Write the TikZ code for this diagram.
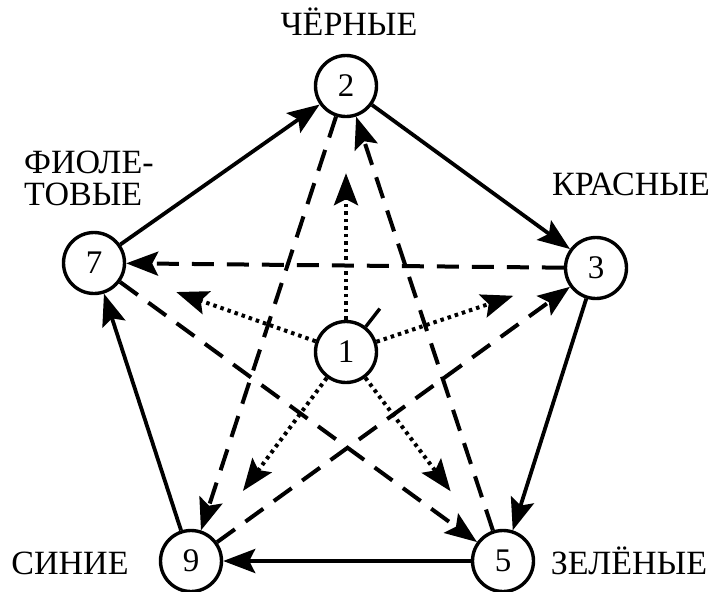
\documentclass[tikz,border=0pt]{standalone}
\usepackage{fontspec}
\setmainfont{Liberation Serif}
\usetikzlibrary{arrows.meta}

\tikzset{
  ring/.style={circle, draw, line width=3.4pt, minimum size=61pt, inner sep=0pt,
    font=\fontsize{33}{33}\selectfont},
  colour/.style={inner sep=0pt, font=\fontsize{34}{34}\selectfont},
  tip/.style={-{Stealth[length=32pt,width=24pt,inset=6pt]}},
  solidarr/.style={tip, line width=3.8pt},
  dasharr/.style={tip, line width=4pt, dash pattern=on 22pt off 13pt},
  dotarr/.style={tip, line width=4pt, dash pattern=on 3.5pt off 4pt, shorten >=55pt}
}

\begin{document}
\begin{tikzpicture}[x=1pt, y=-1pt]
            \useasboundingbox (0,0) rectangle (718,592);

            \node[ring] (n1) at (346,352) {1};
            \node[ring] (n2) at (346,86) {2};
            \node[ring] (n3) at (596,268) {3};
            \node[ring] (n5) at (503,561) {5};
            \node[ring] (n7) at (94,263) {7};
            \node[ring] (n9) at (191,561) {9};

            \node[colour, anchor=base] (black) at (349,35) {ЧЁРНЫЕ};
            \node[colour, anchor=base] (red) at (631,195) {КРАСНЫЕ};
            \node[colour, anchor=base west] (violet) at (24,173) {ФИОЛЕ-};
            \node[colour, anchor=base west] (violet2) at (24,205) {ТОВЫЕ};
            \node[colour, anchor=base] (blue) at (70,574) {СИНИЕ};
            \node[colour, anchor=base] (green) at (629,574) {ЗЕЛЁНЫЕ};

            \draw[solidarr] (n7) -- (n2);
            \draw[solidarr] (n2) -- (n3);
            \draw[solidarr] (n3) -- (n5);
            \draw[solidarr] (n5) -- (n9);
            \draw[solidarr] (n9) -- (n7);

            \draw[dasharr] (n3) -- (n7);
            \draw[dasharr] (n2) -- (n9);
            \draw[dasharr] (n9) -- (n3);
            \draw[dasharr] (n5) -- (n2);
            \draw[dasharr] (n7) -- (n5);

            \draw[dotarr] (n1) -- (n2);
            \draw[dotarr] (n1) -- (n3);
            \draw[dotarr] (n1) -- (n5);
            \draw[dotarr] (n1) -- (n9);
            \draw[dotarr] (n1) -- (n7);

            \draw[line width=3.4pt] (n1.52) -- ++(14,-18);
        \end{tikzpicture}
\end{document}
